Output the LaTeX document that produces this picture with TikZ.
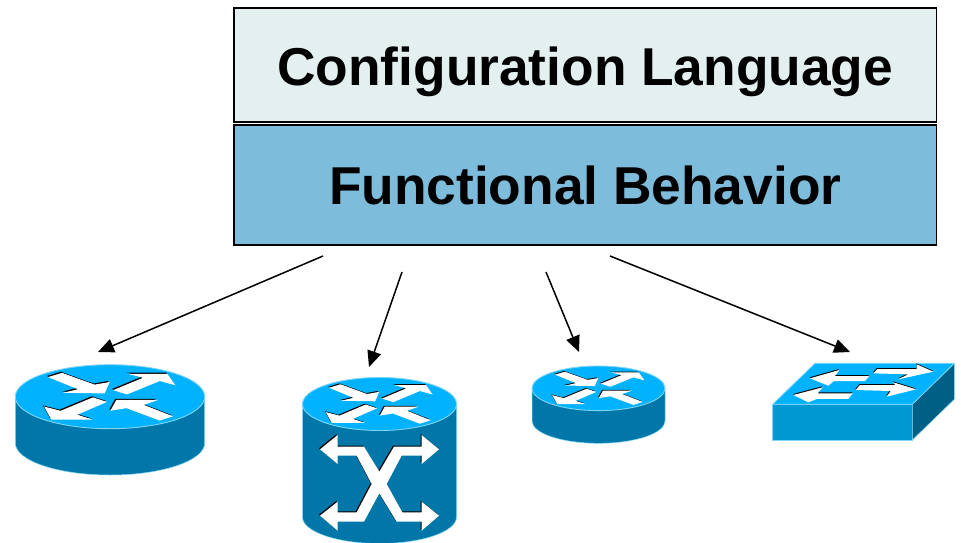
\documentclass[tikz,border=0pt]{standalone}
\usepackage{fontspec}
\setmainfont{Liberation Sans}
\usetikzlibrary{arrows.meta}
\definecolor{cfgfill}{HTML}{E4F0F0}
\definecolor{fnfill}{HTML}{7DBCDB}
\definecolor{topblue}{HTML}{00B2FF}
\definecolor{sideblue}{HTML}{0077A8}
\definecolor{edgeblue}{HTML}{7FD6F5}
\definecolor{frontblue}{HTML}{0098D2}
\definecolor{darkside}{HTML}{005F85}
\tikzset{
  layerbox/.style={draw=black,line width=1.8pt,minimum width=702.6pt,inner sep=0pt,text height=39pt,text depth=0pt,font=\bfseries\fontsize{53.3}{53.3}\selectfont},
  feed/.style={draw=black,line width=1.5pt,-{Triangle[length=16pt,width=14pt]}},
  glyph/.style={fill=white,draw=none},
  glyphshade/.style={fill=black,draw=none},
  devtop/.style={fill=topblue,draw=edgeblue,line width=0.9pt},
  devside/.style={fill=sideblue,draw=edgeblue,line width=0.5pt}
}
\newcommand{\arrowset}{%
  \foreach \stylename/\dx/\dy in {glyphshade/-0.012/-0.035,glyph/0/0}{
  \fill[\stylename,shift={(\dx,\dy)}] (-.655,-.612)--(-.507,-.745)--(-.162,-.378)--(-.004,-.459)--(-.056,-.102)--(-.496,-.122)--(-.338,-.235)--cycle;
  \fill[\stylename,shift={(\dx,\dy)}] (.032,-.204)--(.349,-.592)--(.190,-.714)--(.606,-.714)--(.690,-.357)--(.525,-.490)--(.180,-.071)--cycle;
  \fill[\stylename,shift={(\dx,\dy)}] (-.697,.306)--(-.521,.439)--(-.180,.020)--(-.032,.163)--(-.345,.561)--(-.187,.714)--(-.620,.714)--cycle;
  \fill[\stylename,shift={(\dx,\dy)}] (.004,.439)--(.067,.102)--(.507,.102)--(.356,.255)--(.665,.612)--(.525,.745)--(.173,.357)--cycle;
  }}
% #1 cx, #2 top cy, #3 bottom cy, #4 rx, #5 ry
\newcommand{\cylinderdev}[5]{%
  \path[devside] (#1-#4,#2) -- (#1-#4,#3) arc[start angle=180,end angle=0,x radius=#4,y radius=#5] -- (#1+#4,#2) -- cycle;
  \path[devtop] (#1,#2) ellipse[x radius=#4,y radius=#5];
  \begin{scope}[shift={(#1,#2)},x=#4pt,y=-#5pt]
    \arrowset
  \end{scope}}
\begin{document}
\begin{tikzpicture}[x=1pt,y=-1pt]
\useasboundingbox (0,0) rectangle (961,543);
\node[layerbox,fill=cfgfill,minimum height=114pt,text height=41pt] (cfg) at (585.2,65) {Configuration Language};
\node[layerbox,fill=fnfill,minimum height=120pt] (fn) at (585.2,185) {Functional Behavior};
% router 1
\cylinderdev{110}{396.7}{443}{94.7}{32}
% ATM switch router
\cylinderdev{379.5}{404}{517}{77}{26.5}
\foreach \stylename/\dx/\dy in {glyphshade/-1/-1,glyph/0/0}{
\fill[\stylename,shift={(290+\dx,360+\dy)},x=0.3333pt,y=-0.3333pt]
 (90,268)--(143,225)--(143,260)--(222,260)--(268,335)--(312,260)--(395,260)--(395,225)--(447,268)--(395,312)--(395,287)--(335,287)--(290,372)--(337,457)--(395,457)--(395,425)--(447,467)--(395,512)--(395,485)--(320,485)--(268,400)--(222,485)--(143,485)--(143,512)--(90,467)--(143,425)--(143,457)--(200,457)--(245,372)--(200,287)--(143,287)--(143,312)--cycle;
}
% router 3
\cylinderdev{598.5}{388.3}{421}{66.5}{22.3}
% switch
\path[fill=frontblue,draw=edgeblue,line width=0.8pt] (772.7,404.3)--(912.3,404.3)--(912.3,440)--(772.7,440)--cycle;
\path[fill=darkside,draw=edgeblue,line width=0.5pt] (912.3,404.3)--(954.3,363.3)--(954.3,399.3)--(912.3,440)--cycle;
\path[fill=topblue,draw=edgeblue,line width=0.8pt] (815,363.3)--(954.3,363.3)--(912.3,404.3)--(772.7,404.3)--cycle;
\foreach \stylename/\dx/\dy in {glyphshade/-0.4/-1,glyph/0/0}{
\begin{scope}[shift={(760+\dx,350+\dy)},x=0.3333pt,y=-0.3333pt]
\fill[\stylename] (150,85)--(238,60)--(225,78)--(328,78)--(315,93)--(222,93)--(205,107)--cycle;
\fill[\stylename] (340,70)--(352,57)--(470,57)--(470,43)--(520,65)--(415,88)--(445,73)--cycle;
\fill[\stylename] (100,135)--(188,112)--(173,130)--(278,130)--(265,147)--(170,147)--(145,157)--cycle;
\fill[\stylename] (287,120)--(300,105)--(405,105)--(400,97)--(468,118)--(380,140)--(392,123)--cycle;
\end{scope}}
% connectors
\coordinate (s1) at (323,256); \coordinate (e1) at (98,352);
\coordinate (s2) at (402,272); \coordinate (e2) at (369,367);
\coordinate (s3) at (546,272); \coordinate (e3) at (579,352);
\coordinate (s4) at (610,256); \coordinate (e4) at (850,352);
\draw[feed] (s1) -- (e1);
\draw[feed] (s2) -- (e2);
\draw[feed] (s3) -- (e3);
\draw[feed] (s4) -- (e4);
\end{tikzpicture}
\end{document}
